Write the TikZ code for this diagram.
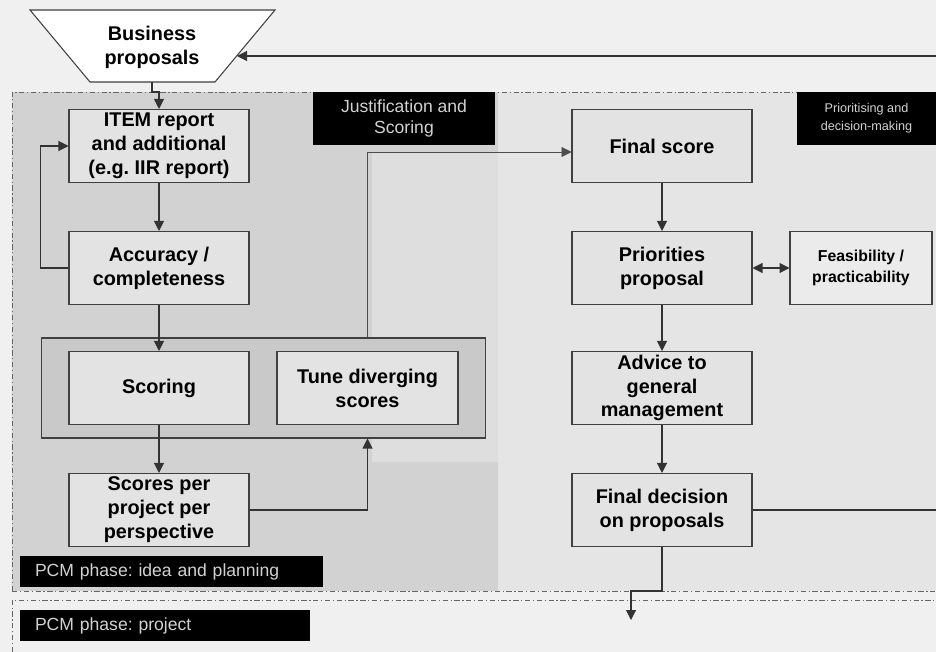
\documentclass[tikz,border=0pt]{standalone}
\usepackage{fontspec}
\setmainfont{Liberation Sans}
\frenchspacing
\usetikzlibrary{arrows.meta,positioning,calc}
\tikzset{
  stepbox/.style={rectangle,draw=black!75,fill=gray!22,line width=.6pt,minimum width=3.6cm,minimum height=1.46cm,inner sep=0pt,align=center,font=\bfseries\fontsize{11.3}{13.6}\selectfont},
  sidebox/.style={stepbox,fill=gray!16,minimum width=2.84cm,font=\bfseries\fontsize{9}{12}\selectfont},
  groupbox/.style={rectangle,draw=black!75,fill=gray!42,line width=.6pt,minimum width=8.9cm,minimum height=2cm},
  tagbox/.style={rectangle,fill=black,text=gray!35,inner sep=0pt,align=center},
  phaseline/.style={draw=black!60,line width=.5pt,dash pattern=on 3pt off 1.5pt on .7pt off 1.5pt},
  flow/.style={draw=black!80,line width=.6pt,-{Triangle[length=2mm,width=2mm]}},
  link/.style={draw=black!70,line width=.5pt}
}
\begin{document}
\begin{tikzpicture}[x=0.02cm,y=-0.02cm]
  \useasboundingbox (0,0) rectangle (936,652);
  \fill[gray!12] (0,0) rectangle (936,652);

  % phase areas
  \fill[gray!35] (12,92) rectangle (498,591);
  \fill[gray!26] (372,152) rectangle (498,462);
  \fill[gray!20] (498,92) rectangle (936,591);
  \draw[phaseline] (12,591) -- (12,92) -- (936,92);
  \draw[phaseline] (12,591) -- (936,591);
  \draw[phaseline] (12,652) -- (12,600) -- (936,600);

  % input
  \draw[draw=black!75,fill=white,line width=.6pt] (30,10) -- (275,10) -- (215,82) -- (90,82) -- cycle;
  \node[align=center,font=\bfseries\fontsize{11.3}{13.6}\selectfont] (bp) at (152,47) {Business\\proposals};
  \coordinate (bps) at (152,82);
  \coordinate (bpr) at (237,56);

  % justification and scoring
  \node[tagbox,minimum width=3.64cm,minimum height=1.06cm,font=\fontsize{10}{12}\selectfont] (tjust) at (404,118.5) {Justification and\\Scoring};
  \node[stepbox] (item) at (159,146) {ITEM report\\and additional\\(e.g. IIR report)};
  \node[stepbox] (acc) at (159,268) {Accuracy /\\completeness};
  \node[groupbox] (grp) at (263.5,388) {};
  \node[stepbox] (scor) at (159,388) {Scoring};
  \node[stepbox,minimum width=3.62cm] (tune) at (367.5,388) {Tune diverging\\scores};
  \node[stepbox] (spp) at (159,510) {Scores per\\project per\\perspective};

  % prioritising and decision-making
  \node[tagbox,minimum width=2.78cm,minimum height=1.06cm,font=\fontsize{7.2}{10}\selectfont] (tprio) at (866.5,118.5) {Prioritising and\\decision-making};
  \node[stepbox] (fin) at (662,146) {Final score};
  \node[stepbox] (prio) at (662,268) {Priorities\\proposal};
  \node[sidebox] (feas) at (861,268) {Feasibility /\\practicability};
  \node[stepbox] (adv) at (662,388) {Advice to\\general\\management};
  \node[stepbox] (dec) at (662,510) {Final decision\\on proposals};

  % phases
  \node[tagbox,minimum width=6.06cm,minimum height=.62cm,inner xsep=.3cm,text width=5.46cm,align=left,font=\fontsize{10}{12}\selectfont] (pidea) at (171.5,571.5) {PCM phase: idea and planning};
  \node[tagbox,minimum width=5.8cm,minimum height=.62cm,inner xsep=.3cm,text width=5.2cm,align=left,font=\fontsize{10}{12}\selectfont] (pproj) at (165,625.5) {PCM phase: project};
  \coordinate (nextph) at (631,620);

  % connectors
  \draw[flow] (bps) -- ++(0,10) -| (item.north);
  \draw[flow] (item) -- (acc);
  \draw[flow] (acc.west) -- ++(-28,0) |- (item.west);
  \draw[flow] (acc) -- (scor);
  \draw[flow] (scor) -- (spp);
  \draw[flow] (spp.east) -| (tune.south |- grp.south);
  \draw[flow,link] (tune.north |- grp.north) -- (tune.north |- 0,152) -- (fin.west |- 0,152);
  \draw[flow] (fin) -- (prio);
  \draw[flow,{Triangle[length=2mm,width=2mm]}-{Triangle[length=2mm,width=2mm]}] (prio) -- (feas);
  \draw[flow] (prio) -- (adv);
  \draw[flow] (adv) -- (dec);
  \draw[flow] (dec.east) -- (940,510) |- (bpr);
  \draw[flow] (dec.south) -- (dec.south |- 0,591) -| (nextph);
\end{tikzpicture}
\end{document}
